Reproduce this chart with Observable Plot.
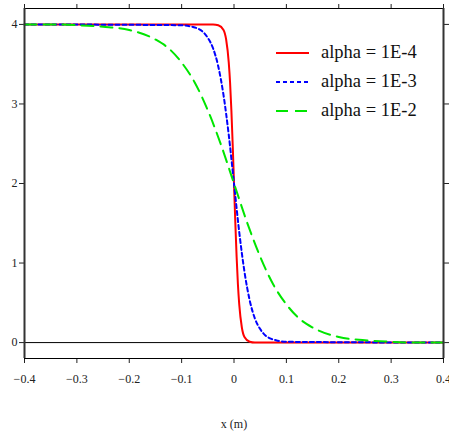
<!DOCTYPE html>
<html><head><meta charset="utf-8">
<script src="https://cdn.jsdelivr.net/npm/d3@7"></script>
<script src="https://cdn.jsdelivr.net/npm/@observablehq/plot@0.6"></script>
<style>
body{margin:0;background:#fff}
#wrap{position:relative;width:449px;height:436px}
#wrap svg, #wrap svg text{font-family:'Liberation Serif','Times New Roman',serif !important}
#legend{position:absolute;left:0;top:0;pointer-events:none}
</style>
</head><body><div id="wrap"></div>
<script>
// Data
const xRed = [-0.4,-0.04,-0.03,-0.02,-0.015,-0.01,-0.0075,-0.005,-0.0025,0,0.0025,0.005,0.0075,0.01,0.015,0.02,0.03,0.04,0.4];
const yRed = [4.00,4.00,3.99,3.93,3.81,3.52,3.27,2.92,2.49,2.00,1.51,1.08,0.73,0.48,0.19,0.07,0.01,0.00,0.00];

const xBlue = [-0.4,-0.1,-0.08,-0.07,-0.06,-0.05,-0.04,-0.03,-0.02,-0.01,0,0.01,0.02,0.03,0.04,0.05,0.06,0.07,0.08,0.1,0.4];
const yBlue = [4.00,3.99,3.97,3.95,3.91,3.83,3.70,3.47,3.11,2.61,2.00,1.39,0.89,0.53,0.30,0.17,0.09,0.05,0.03,0.01,0.00];

const xGreen = [-0.4,-0.35,-0.3,-0.25,-0.2,-0.15,-0.125,-0.1,-0.075,-0.05,-0.025,0,0.025,0.05,0.075,0.1,0.125,0.15,0.2,0.25,0.3,0.35,0.4];
const yGreen = [4.00,4.00,3.99,3.97,3.93,3.81,3.70,3.52,3.27,2.92,2.49,2.00,1.51,1.08,0.73,0.48,0.30,0.19,0.07,0.03,0.01,0.00,0.00];

const seriesNames = ["alpha = 1E-4","alpha = 1E-3","alpha = 1E-2"];
const seriesColors = ["#ff0000","#0000ff","#00e600"];
const seriesDash = [null,"4,3","12,7"];

const xTicks = [-0.4,-0.3,-0.2,-0.1,0,0.1,0.2,0.3,0.4];
const yTicks = [0,1,2,3,4];
const xLabel = "x (m)";

const toRows = (xs, ys) => xs.map((x,i) => ({x, y: ys[i]}));
const series = [toRows(xRed,yRed), toRows(xBlue,yBlue), toRows(xGreen,yGreen)];

const f1 = d3.format(".1f");
const fmt = d => d === 0 ? "0" : f1(d);

const lineMarks = series.map((rows,i) => Plot.line(rows, {
  x:"x", y:"y", stroke: seriesColors[i], strokeWidth: 2,
  strokeDasharray: seriesDash[i] ?? undefined, curve: "monotone-x"
}));

const plot = Plot.plot({
  width: 449, height: 436,
  marginLeft: 24, marginRight: 6, marginTop: 8, marginBottom: 78,
  style: {fontFamily: "'Liberation Serif', 'Times New Roman', serif", fontSize: "12px", background: "white", color: "#222"},
  x: {domain: [-0.4, 0.4]},
  y: {domain: [-0.2, 4.2]},
  marks: [
    Plot.axisX({anchor: "bottom", ticks: xTicks, tickSize: 5, tickPadding: 11, tickFormat: fmt, label: null}),
    Plot.axisX({anchor: "top", ticks: xTicks, tickSize: 5, tickFormat: () => "", label: null}),
    Plot.axisY({anchor: "left", ticks: yTicks, tickSize: 5, tickPadding: 2, tickFormat: d => String(d), label: null}),
    Plot.axisY({anchor: "right", ticks: yTicks, tickSize: 5, tickFormat: () => "", label: null}),
    Plot.ruleY([0], {stroke: "black", strokeWidth: 1}),
    ...lineMarks,
    Plot.frame({stroke: "black"}),
    Plot.ruleX([-0.4, 0.4], {stroke: "#333", strokeWidth: 2}),
    Plot.text([xLabel], {text: d => d, frameAnchor: "bottom", dy: 69, fontSize: 12, fill: "#222"})
  ]
});
const wrap = document.getElementById("wrap");
wrap.appendChild(plot);

// Legend overlay
const lg = d3.select(wrap).append("svg").attr("id","legend").attr("width",449).attr("height",436);
const legY = [53, 82, 111];
seriesNames.forEach((name,i) => {
  const g = lg.append("g");
  g.append("line").attr("x1",276).attr("x2",309).attr("y1",legY[i]).attr("y2",legY[i])
    .attr("stroke",seriesColors[i]).attr("stroke-width",2)
    .attr("stroke-dasharray", seriesDash[i] ?? null);
  g.append("text").attr("x",321).attr("y",legY[i]+5).text(name)
    .attr("font-family","'Liberation Serif', 'Times New Roman', serif").attr("font-size","18.5px").attr("fill","#111");
});
</script>
</body></html>
